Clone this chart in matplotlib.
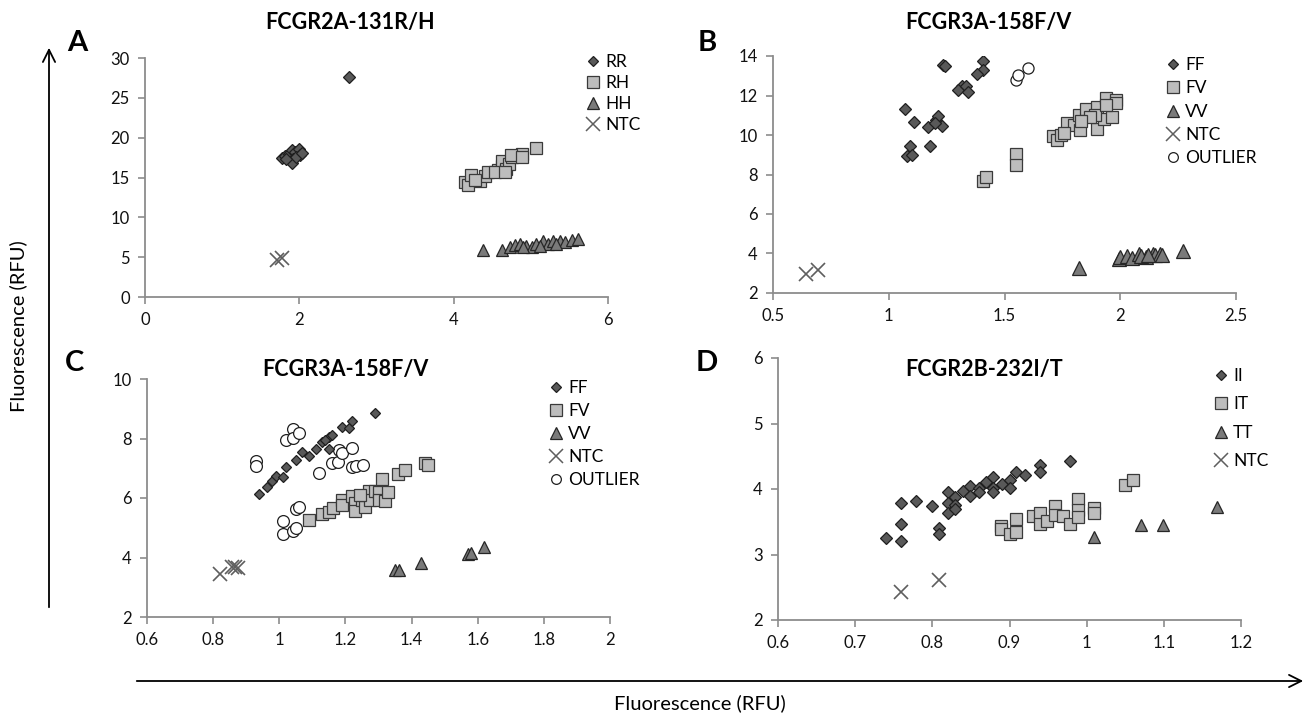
import matplotlib
matplotlib.use('Agg')
import matplotlib.pyplot as plt
from matplotlib.patches import FancyArrowPatch

plt.rcParams['font.family'] = ['Lato', 'DejaVu Sans']

# Panel A  FCGR2A-131R/H
a_rr_x = [1.77, 1.81, 1.86, 1.90, 1.94, 1.99, 1.92, 1.90, 2.01, 1.96, 1.83, 2.03, 2.65]
a_rr_y = [17.4, 17.7, 18.0, 18.4, 18.2, 18.6, 17.3, 16.8, 17.8, 17.6, 17.3, 18.1, 27.6]
a_rh_x = [4.15, 4.19, 4.23, 4.34, 4.40, 4.45, 4.58, 4.62, 4.63, 4.68, 4.72, 4.75, 4.89, 5.07,
          4.27, 4.53, 4.67, 4.74, 4.89]
a_rh_y = [14.4, 14.0, 15.3, 14.6, 15.2, 15.7, 15.9, 16.5, 17.1, 16.1, 16.7, 17.6, 18.0, 18.7,
          14.7, 15.7, 15.7, 17.8, 17.6]
a_hh_x = [4.38, 4.62, 4.73, 4.79, 4.86, 4.94, 5.01, 5.07, 5.16, 5.22, 5.29, 5.38, 5.44, 5.53,
          5.61, 5.12, 5.33, 4.90]
a_hh_y = [5.9, 5.9, 6.3, 6.5, 6.7, 6.4, 6.3, 6.7, 7.0, 6.6, 7.0, 7.0, 6.9, 7.2,
          7.3, 6.4, 6.7, 6.3]
a_ntc_x = [1.71, 1.77]
a_ntc_y = [4.7, 4.9]

# Panel B  FCGR3A-158F/V
b_ff_x = [1.236, 1.245, 1.408, 1.408, 1.38, 1.316, 1.30, 1.335, 1.342, 1.07, 1.108, 1.17,
          1.206, 1.213, 1.23, 1.20, 1.09, 1.08, 1.10, 1.18]
b_ff_y = [13.56, 13.5, 13.73, 13.3, 13.1, 12.5, 12.3, 12.46, 12.16, 11.33, 10.67, 10.4,
          10.77, 10.98, 10.44, 10.6, 9.46, 8.95, 9.0, 9.42]
b_fv_x = [1.408, 1.42, 1.549, 1.549, 1.71, 1.725, 1.745, 1.77, 1.80, 1.826, 1.82, 1.85,
          1.90, 1.90, 1.93, 1.94, 1.98, 1.98, 1.965, 1.89, 1.87, 1.83, 1.755, 1.94]
b_fv_y = [7.65, 7.85, 9.04, 8.5, 9.93, 9.75, 10.0, 10.6, 10.5, 10.25, 11.0, 11.3,
          11.42, 10.3, 10.8, 11.87, 11.79, 11.6, 10.9, 11.0, 10.9, 10.7, 10.1, 11.5]
b_vv_x = [1.82, 1.995, 2.0, 2.03, 2.05, 2.08, 2.11, 2.14, 2.15, 2.17, 2.18, 2.27, 2.09, 2.12]
b_vv_y = [3.27, 3.72, 3.8, 3.85, 3.75, 3.95, 3.8, 3.95, 3.9, 3.95, 3.92, 4.14, 3.88, 3.9]
b_ntc_x = [0.642, 0.693]
b_ntc_y = [2.98, 3.18]
b_out_x = [1.549, 1.56, 1.60]
b_out_y = [12.8, 13.05, 13.39]

# Panel C  FCGR3A-158F/V
c_ff_x = [0.94, 0.963, 0.978, 0.991, 1.011, 1.02, 1.05, 1.07, 1.09, 1.11, 1.129, 1.149,
          1.159, 1.151, 1.189, 1.211, 1.221, 1.29, 1.139]
c_ff_y = [6.15, 6.36, 6.56, 6.73, 6.69, 7.03, 7.27, 7.53, 7.42, 7.65, 7.87, 8.05,
          8.13, 7.65, 8.39, 8.35, 8.58, 8.86, 7.96]
c_fv_x = [1.09, 1.129, 1.151, 1.161, 1.189, 1.189, 1.221, 1.229, 1.229, 1.25, 1.26, 1.27,
          1.275, 1.29, 1.302, 1.303, 1.31, 1.32, 1.33, 1.36, 1.38, 1.44, 1.45, 1.245]
c_fv_y = [5.27, 5.46, 5.53, 5.66, 5.94, 5.78, 6.06, 5.83, 5.55, 5.94, 5.69, 6.22,
          5.94, 6.25, 6.19, 5.94, 6.64, 5.89, 6.19, 6.81, 6.93, 7.18, 7.1, 6.11]
c_vv_x = [1.35, 1.362, 1.43, 1.57, 1.58, 1.62]
c_vv_y = [3.57, 3.57, 3.82, 4.12, 4.15, 4.35]
c_ntc_x = [0.82, 0.857, 0.867, 0.875]
c_ntc_y = [3.46, 3.67, 3.67, 3.65]
c_out_x = [0.929, 0.929, 1.02, 1.04, 1.041, 1.06, 1.12, 1.159, 1.179, 1.181, 1.189, 1.221,
           1.221, 1.232, 1.252, 1.01, 1.01, 1.04, 1.05, 1.05, 1.06]
c_out_y = [7.23, 7.06, 7.94, 8.32, 8.02, 8.18, 6.84, 7.18, 7.2, 7.62, 7.51, 7.68,
           7.03, 7.09, 7.11, 5.22, 4.80, 4.88, 4.99, 5.63, 5.69]

# Panel D  FCGR2B-232I/T
d_ii_x = [0.740, 0.760, 0.760, 0.760, 0.779, 0.799, 0.809, 0.809, 0.820, 0.820, 0.820,
          0.830, 0.830, 0.830, 0.840, 0.849, 0.849, 0.860, 0.860, 0.869, 0.879, 0.879,
          0.879, 0.890, 0.900, 0.900, 0.909, 0.920, 0.940, 0.940, 0.979]
d_ii_y = [3.25, 3.79, 3.47, 3.20, 3.81, 3.74, 3.41, 3.32, 3.95, 3.79, 3.64,
          3.88, 3.75, 3.70, 3.97, 4.05, 3.89, 4.01, 3.95, 4.11, 4.19, 4.01,
          3.96, 4.07, 4.14, 4.02, 4.26, 4.21, 4.36, 4.26, 4.42]
d_it_x = [0.889, 0.889, 0.900, 0.909, 0.909, 0.930, 0.940, 0.940, 0.949, 0.959, 0.959,
          0.969, 0.979, 0.989, 0.989, 0.989, 1.010, 1.010, 1.050, 1.060]
d_it_y = [3.44, 3.39, 3.31, 3.54, 3.35, 3.59, 3.64, 3.47, 3.51, 3.74, 3.60,
          3.59, 3.47, 3.84, 3.68, 3.58, 3.71, 3.63, 4.06, 4.14]
d_tt_x = [1.010, 1.070, 1.099, 1.169]
d_tt_y = [3.27, 3.45, 3.45, 3.73]
d_ntc_x = [0.760, 0.809]
d_ntc_y = [2.42, 2.61]

W, H = 1308, 715
fig = plt.figure(figsize=(W / 100, H / 100), dpi=100)
fig.patch.set_facecolor('white')

axis_grey = '#8c8c8c'


def px(x0, y0, x1, y1):
    # pixel box (left, top, right, bottom) -> figure fraction rect
    return [x0 / W, 1 - y1 / H, (x1 - x0) / W, (y1 - y0) / H]


def style(ax, xlim, ylim, xt, yt, xfmt, yfmt):
    ax.set_xlim(xlim)
    ax.set_ylim(ylim)
    ax.set_xticks(xt)
    ax.set_yticks(yt)
    ax.set_xticklabels([xfmt(v) for v in xt])
    ax.set_yticklabels([yfmt(v) for v in yt])
    for s in ['top', 'right']:
        ax.spines[s].set_visible(False)
    for s in ['left', 'bottom']:
        ax.spines[s].set_color(axis_grey)
        ax.spines[s].set_linewidth(1.3)
    ax.tick_params(direction='out', length=5, width=1.2, color=axis_grey,
                   labelsize=12, labelcolor='#111111', pad=6)
    ax.patch.set_alpha(0)


def fmt(v):
    s = ('%.1f' % v).rstrip('0').rstrip('.')
    return s


def draw(ax, x, y, kind, ms):
    if kind == 'dia':
        ax.plot(x, y, 'D', ms=ms, mfc='#595959', mec='#1f1f1f', mew=0.9, ls='none')
    elif kind == 'sq':
        ax.plot(x, y, 's', ms=ms, mfc='#bdbdbd', mec='#3a3a3a', mew=0.9, ls='none')
    elif kind == 'tri':
        ax.plot(x, y, '^', ms=ms, mfc='#7a7a7a', mec='#262626', mew=0.9, ls='none')
    elif kind == 'x':
        ax.plot(x, y, 'x', ms=ms, color='#5e5e5e', mew=1.2, ls='none')
    elif kind == 'o':
        ax.plot(x, y, 'o', ms=ms, mfc='white', mec='#1f1f1f', mew=0.9, ls='none')


def legend(ax, labels, x0, y0, spacing):
    handles = []
    kinds = ['dia', 'sq', 'tri', 'x', 'o']
    style_map = {
        'dia': dict(marker='D', ms=5.5, mfc='#595959', mec='#1f1f1f', mew=0.9),
        'sq': dict(marker='s', ms=8, mfc='#bdbdbd', mec='#3a3a3a', mew=0.9),
        'tri': dict(marker='^', ms=8, mfc='#7a7a7a', mec='#262626', mew=0.9),
        'x': dict(marker='x', ms=10, color='#5e5e5e', mew=1.1),
        'o': dict(marker='o', ms=7, mfc='white', mec='#1f1f1f', mew=0.9),
    }
    for i, lab in enumerate(labels):
        h, = ax.plot([], [], ls='none', **style_map[kinds[i]])
        handles.append(h)
    ax.legend(handles, labels, loc='upper left', frameon=False,
              bbox_to_anchor=(x0 / W, 1 - y0 / H), bbox_transform=fig.transFigure,
              borderpad=0, borderaxespad=0, handlelength=0.8, handletextpad=0.3,
              labelspacing=spacing, fontsize=12.5, numpoints=1)


# A
axA = fig.add_axes(px(145, 58, 608, 297))
draw(axA, a_rr_x, a_rr_y, 'dia', 6.5)
draw(axA, a_rh_x, a_rh_y, 'sq', 9)
draw(axA, a_hh_x, a_hh_y, 'tri', 8)
draw(axA, a_ntc_x, a_ntc_y, 'x', 10)
style(axA, (0, 6), (0, 30), [0, 2, 4, 6], [0, 5, 10, 15, 20, 25, 30], fmt, fmt)
legend(axA, ['RR', 'RH', 'HH', 'NTC'], 586, 54, 0.28)

# B
axB = fig.add_axes(px(773, 56, 1236, 293))
draw(axB, b_ff_x, b_ff_y, 'dia', 6.5)
draw(axB, b_fv_x, b_fv_y, 'sq', 9)
draw(axB, b_vv_x, b_vv_y, 'tri', 10.5)
draw(axB, b_ntc_x, b_ntc_y, 'x', 10)
draw(axB, b_out_x, b_out_y, 'o', 8)
style(axB, (0.5, 2.5), (2, 14), [0.5, 1, 1.5, 2, 2.5], [2, 4, 6, 8, 10, 12, 14], fmt, fmt)
legend(axB, ['FF', 'FV', 'VV', 'NTC', 'OUTLIER'], 1166, 57, 0.42)

# C
axC = fig.add_axes(px(147, 379, 610, 617))
draw(axC, c_out_x, c_out_y, 'o', 8.5)
draw(axC, c_ff_x, c_ff_y, 'dia', 5.5)
draw(axC, c_fv_x, c_fv_y, 'sq', 8.5)
draw(axC, c_vv_x, c_vv_y, 'tri', 8)
draw(axC, c_ntc_x, c_ntc_y, 'x', 10)
style(axC, (0.6, 2), (2, 10), [0.6, 0.8, 1, 1.2, 1.4, 1.6, 1.8, 2], [2, 4, 6, 8, 10], fmt, fmt)
legend(axC, ['FF', 'FV', 'VV', 'NTC', 'OUTLIER'], 549, 380, 0.4)

# D
axD = fig.add_axes(px(778, 358, 1241, 620))
draw(axD, d_ii_x, d_ii_y, 'dia', 6)
draw(axD, d_it_x, d_it_y, 'sq', 8.5)
draw(axD, d_tt_x, d_tt_y, 'tri', 8)
draw(axD, d_ntc_x, d_ntc_y, 'x', 10)
style(axD, (0.6, 1.2), (2, 6), [0.6, 0.7, 0.8, 0.9, 1, 1.1, 1.2], [2, 3, 4, 5, 6], fmt, fmt)
legend(axD, ['II', 'IT', 'TT', 'NTC'], 1214, 368, 0.72)

# titles and panel letters
titles = ['FCGR2A-131R/H', 'FCGR3A-158F/V', 'FCGR3A-158F/V', 'FCGR2B-232I/T']
title_pos = [(350, 22), (988, 22), (345, 369), (984, 369)]
for t, (x, y) in zip(titles, title_pos):
    fig.text(x / W, 1 - y / H, t, ha='center', va='center', fontsize=15.5, fontweight='bold')
letters = ['A', 'B', 'C', 'D']
letter_pos = [(77, 43), (707, 43), (74, 363), (707, 363)]
for t, (x, y) in zip(letters, letter_pos):
    fig.text(x / W, 1 - y / H, t, ha='center', va='center', fontsize=21, fontweight='bold')

# big axis arrows
fig.add_artist(FancyArrowPatch((49 / W, 1 - 610 / H), (49 / W, 1 - 45 / H),
                               transform=fig.transFigure, arrowstyle='->',
                               mutation_scale=22, lw=1.3, color='black'))
fig.add_artist(FancyArrowPatch((134 / W, 1 - 681 / H), (1306 / W, 1 - 681 / H),
                               transform=fig.transFigure, arrowstyle='->',
                               mutation_scale=22, lw=1.3, color='black'))
fig.text(18 / W, 1 - 326 / H, 'Fluorescence (RFU)', rotation=90, ha='center', va='center',
         fontsize=14.5)
fig.text(700 / W, 1 - 703 / H, 'Fluorescence (RFU)', ha='center', va='center', fontsize=14.5)

fig.savefig('out.png', dpi=100, facecolor='white')
